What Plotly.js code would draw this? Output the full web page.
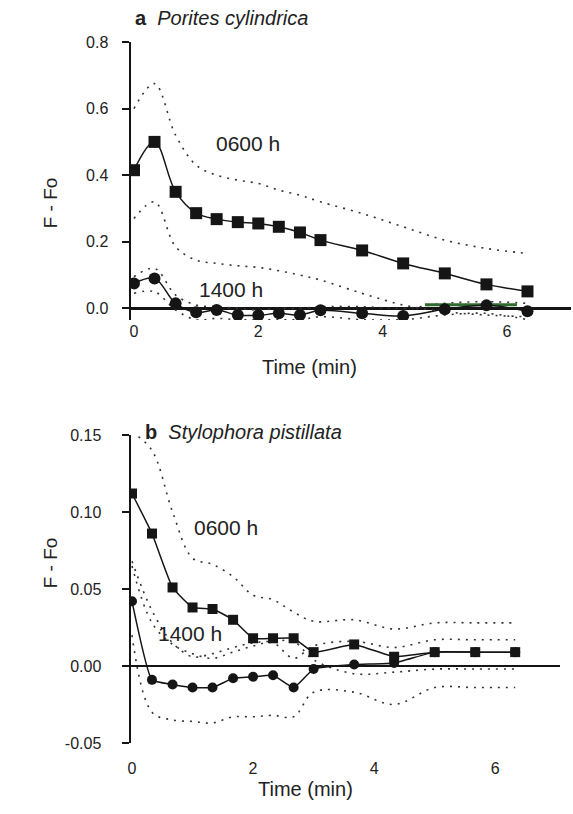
<!DOCTYPE html>
<html>
<head>
<meta charset="utf-8">
<script src="https://cdn.plot.ly/plotly-3.0.1.min.js"></script>
<style>
  html, body { margin: 0; padding: 0; background: #fff; }
  #chart { width: 573px; height: 814px; }
</style>
</head>
<body>
<div id="chart"></div>
<script>
// ---- Data ----
const timeMin = [0, 0.33, 0.67, 1, 1.33, 1.67, 2, 2.33, 2.67, 3, 3.67, 4.33, 5, 5.67, 6.33];

// Panel a: Porites cylindrica
const a0600Mean  = [0.415, 0.50, 0.35, 0.286, 0.268, 0.259, 0.255, 0.245, 0.228, 0.205, 0.174, 0.135, 0.105, 0.072, 0.051];
const a0600Upper = [0.60, 0.675, 0.52, 0.43, 0.40, 0.385, 0.375, 0.355, 0.34, 0.32, 0.285, 0.245, 0.205, 0.18, 0.165];
const a0600Lower = [0.27, 0.32, 0.185, 0.145, 0.135, 0.128, 0.123, 0.113, 0.10, 0.085, 0.045, 0.01, -0.01, -0.02, -0.025];
const a1400Mean  = [0.075, 0.09, 0.015, -0.012, -0.005, -0.02, -0.021, -0.015, -0.02, -0.006, -0.015, -0.023, -0.003, 0.009, -0.009];
const a1400Upper = [0.095, 0.12, 0.04, 0.01, 0.005, 0.0, -0.005, 0.0, 0.0, 0.005, 0.005, 0.0, 0.015, 0.02, 0.015];
const a1400Lower = [0.045, 0.05, -0.005, -0.034, -0.03, -0.034, -0.034, -0.034, -0.034, -0.025, -0.034, -0.034, -0.02, -0.015, -0.034];
const aArtifactX = [4.68, 6.16];
const aArtifactY = [0.011, 0.011];

// Panel b: Stylophora pistillata
const b0600Mean  = [0.112, 0.086, 0.051, 0.038, 0.037, 0.030, 0.018, 0.018, 0.018, 0.009, 0.014, 0.006, 0.009, 0.009, 0.009];
const b0600Upper = [0.152, 0.14, 0.10, 0.07, 0.066, 0.058, 0.046, 0.043, 0.035, 0.029, 0.030, 0.024, 0.028, 0.028, 0.028];
const b0600Lower = [0.068, 0.036, 0.015, 0.006, 0.008, 0.012, 0.015, 0.016, 0.016, 0.004, -0.005, -0.004, -0.002, -0.002, -0.002];
const b1400Mean  = [0.042, -0.009, -0.012, -0.014, -0.014, -0.008, -0.007, -0.006, -0.014, -0.002, 0.001, 0.002, 0.009, 0.009, 0.009];
const b1400Upper = [0.065, 0.028, 0.014, 0.008, 0.005, 0.009, 0.013, 0.015, 0.005, 0.013, 0.016, 0.012, 0.017, 0.017, 0.017];
const b1400Lower = [0.02, -0.03, -0.035, -0.036, -0.037, -0.033, -0.033, -0.032, -0.033, -0.017, -0.017, -0.025, -0.014, -0.014, -0.014];

// Tick labels
const xTickVals = [0, 2, 4, 6];
const xTickText = ['0', '2', '4', '6'];
const aYTickVals = [0, 0.2, 0.4, 0.6, 0.8];
const aYTickText = ['0.0', '0.2', '0.4', '0.6', '0.8'];
const bYTickVals = [-0.05, 0, 0.05, 0.10, 0.15];
const bYTickText = ['-0.05', '0.00', '0.05', '0.10', '0.15'];

// ---- Styles ----
const FONT = '"Liberation Sans", Arial, Helvetica, sans-serif';
const INK = '#151515';
const dotLine = { color: '#333', width: 1.6, dash: '2px,6px', shape: 'spline', smoothing: 1 };

function bound(x, y, xa, ya) {
  return { x: x, y: y, xaxis: xa, yaxis: ya, mode: 'lines', line: dotLine, hoverinfo: 'skip' };
}
function mean(x, y, xa, ya, sym, size, smooth) {
  return {
    x: x, y: y, xaxis: xa, yaxis: ya, mode: 'lines+markers',
    line: { color: INK, width: 1.5, shape: 'spline', smoothing: smooth },
    marker: { symbol: sym, size: size, color: INK, line: { width: 0 } }
  };
}

const traces = [
  bound(timeMin, a0600Upper, 'x', 'y'),
  bound(timeMin, a0600Lower, 'x', 'y'),
  bound(timeMin, a1400Upper, 'x', 'y'),
  bound(timeMin, a1400Lower, 'x', 'y'),
  { x: aArtifactX, y: aArtifactY, xaxis: 'x', yaxis: 'y', mode: 'lines',
    line: { color: '#2f6b2f', width: 3 }, hoverinfo: 'skip' },
  mean(timeMin, a1400Mean, 'x', 'y', 'circle', 12, 1),
  mean(timeMin, a0600Mean, 'x', 'y', 'square', 12, 1),

  bound(timeMin, b0600Upper, 'x2', 'y2'),
  bound(timeMin, b0600Lower, 'x2', 'y2'),
  bound(timeMin, b1400Upper, 'x2', 'y2'),
  bound(timeMin, b1400Lower, 'x2', 'y2'),
  mean(timeMin, b1400Mean, 'x2', 'y2', 'circle', 10, 0.4),
  mean(timeMin, b0600Mean, 'x2', 'y2', 'square', 10, 0.4)
];

const yAxisCommon = {
  showline: true, linewidth: 2.5, linecolor: INK, mirror: false,
  ticks: 'outside', ticklen: 7, tickwidth: 2, tickcolor: INK,
  showgrid: false, zeroline: true, zerolinecolor: INK, zerolinewidth: 2.5,
  tickfont: { family: FONT, size: 16, color: '#222' }
};
const xAxisCommon = {
  showline: false, showgrid: false, zeroline: false, ticks: '',
  tickvals: xTickVals, ticktext: xTickText,
  tickfont: { family: FONT, size: 16, color: '#222' }
};

const labelFont = { family: FONT, size: 21, color: '#222' };

const layout = {
  width: 573, height: 814,
  margin: { l: 131, r: 2, t: 42, b: 71 },
  paper_bgcolor: '#fff', plot_bgcolor: '#fff',
  showlegend: false,
  xaxis: Object.assign({}, xAxisCommon, { domain: [0, 1], range: [-0.048, 7.03], anchor: 'y', ticklabelstandoff: 0 }),
  yaxis: Object.assign({}, yAxisCommon, { domain: [0.6034, 1], range: [-0.035, 0.8], anchor: 'x',
    tickvals: aYTickVals, ticktext: aYTickText, ticklabelstandoff: 10 }),
  xaxis2: Object.assign({}, xAxisCommon, { domain: [0, 0.975], range: [-0.0165, 7.07], anchor: 'y2', ticklabelstandoff: 14 }),
  yaxis2: Object.assign({}, yAxisCommon, { domain: [0, 0.4394], range: [-0.05, 0.15], anchor: 'x2',
    tickvals: bYTickVals, ticktext: bYTickText, ticklabelstandoff: 17 }),
  annotations: [
    { xref: 'paper', yref: 'paper', x: 0.004, y: 1.034, xanchor: 'left', yanchor: 'middle', showarrow: false,
      text: '<b>a</b>  <i>Porites cylindrica</i>', font: { family: FONT, size: 20, color: '#222' } },
    { xref: 'paper', yref: 'paper', x: 0.027, y: 0.443, xanchor: 'left', yanchor: 'middle', showarrow: false,
      text: '<b>b</b>  <i>Stylophora pistillata</i>', font: { family: FONT, size: 20, color: '#222' } },
    { xref: 'x', yref: 'y', x: 1.83, y: 0.496, showarrow: false, text: '0600 h', font: labelFont },
    { xref: 'x', yref: 'y', x: 1.56, y: 0.057, showarrow: false, text: '1400 h', font: labelFont },
    { xref: 'x2', yref: 'y2', x: 1.55, y: 0.090, showarrow: false, text: '0600 h', font: labelFont },
    { xref: 'x2', yref: 'y2', x: 0.95, y: 0.021, showarrow: false, text: '1400 h', font: labelFont },
    { xref: 'paper', yref: 'paper', x: 0.405, y: 0.536, showarrow: false, text: 'Time (min)',
      font: { family: FONT, size: 20, color: '#222' } },
    { xref: 'paper', yref: 'paper', x: 0.396, y: -0.084, showarrow: false, text: 'Time (min)',
      font: { family: FONT, size: 20, color: '#222' } },
    { xref: 'paper', yref: 'paper', x: -0.211, y: 0.810, showarrow: false, textangle: -90, text: 'F - Fo',
      font: { family: FONT, size: 19, color: '#222' } },
    { xref: 'paper', yref: 'paper', x: -0.211, y: 0.218, showarrow: false, textangle: -90, text: 'F - Fo',
      font: { family: FONT, size: 19, color: '#222' } }
  ]
};

Plotly.newPlot('chart', traces, layout, { staticPlot: true, displayModeBar: false });
</script>
</body>
</html>
